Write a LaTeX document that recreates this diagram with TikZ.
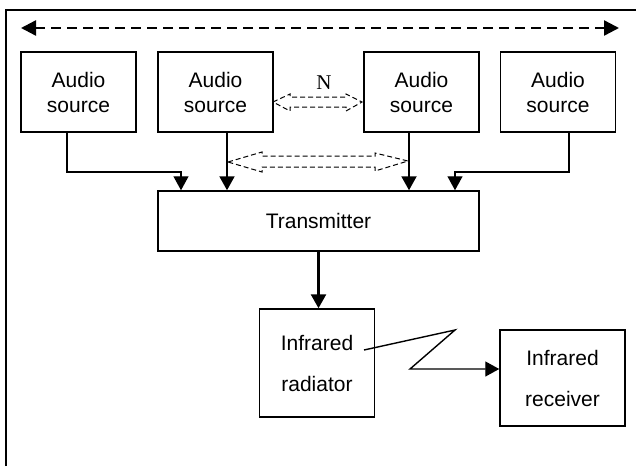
\documentclass[tikz,border=0pt]{standalone}
\usepackage{fontspec}
\setmainfont{Liberation Sans}
\newfontfamily\nserif{Liberation Serif}
\usetikzlibrary{arrows.meta}
\begin{document}
\begin{tikzpicture}[x=.5pt,y=-.5pt,
box/.style={draw,line width=.75pt,inner sep=0pt,align=center,minimum width=57.5pt,minimum height=40pt,font=\fontsize{10.5}{12.5}\selectfont},
tall/.style={box,font=\fontsize{10.5}{20.5}\selectfont},
link/.style={line width=.7pt,-{Triangle[width=7.5pt,length=7pt]}},
hollow/.style={line width=.5pt,dash pattern=on 2.5pt off 1.5pt}]
\useasboundingbox (0,0) rectangle (636,466);
\draw[line width=1pt] (6,466) |- (636,10);
%
\coordinate (lend) at (21,28);
\coordinate (rend) at (619,28);
\draw[line width=1.2pt,dash pattern=on 5pt off 3pt,{Triangle[width=7.5pt,length=7.5pt]}-{Triangle[width=7.5pt,length=7.5pt]}] (lend) -- (rend);
%
\node[box] (src1) at (78.5,92) {Audio\\source};
\node[box] (src2) at (215.5,92) {Audio\\source};
\node[box] (src3) at (421.5,92) {Audio\\source};
\node[box] (src4) at (558,92) {Audio\\source};
\node[box,minimum width=160.5pt,minimum height=30pt] (tx) at (318.5,221) {Transmitter};
\node[tall,minimum height=54pt] (rad) at (317,363) {Infrared\\radiator};
\node[tall,minimum width=62.5pt,minimum height=48pt] (rcv) at (562.5,378) {Infrared\\receiver};
\node[font=\nserif\fontsize{10.5}{12}\selectfont] (nlab) at (324,83) {N};
%
\coordinate (j1) at (181,172);
\coordinate (j4) at (455,172);
\coordinate (o2) at ([xshift=5.75pt]src2.south);
\coordinate (o3) at ([xshift=-6.25pt]src3.south);
\draw[link] ([xshift=-5.75pt]src1.south) |- (j1) -- (j1 |- tx.north);
\draw[link,line width=1pt] (o2) -- (o2 |- tx.north);
\draw[link,line width=1pt] (o3) -- (o3 |- tx.north);
\draw[link] ([xshift=5.5pt]src4.south) |- (j4) -- (j4 |- tx.north);
\draw[link,line width=1.3pt] (tx.south) -- (tx.south |- rad.north);
%
\draw[hollow] (273,102) -- (290,94) -- (290,97) -- (346,97) -- (346,94) -- (362,102)
  -- (346,111) -- (346,107) -- (290,107) -- (290,111) -- cycle;
\draw[hollow] (228,162) -- (262,152) -- (262,156) -- (375,156) -- (375,153) -- (408,161)
  -- (375,171) -- (375,167) -- (262,167) -- (262,172) -- cycle;
%
\coordinate (z1) at (364,350);
\coordinate (z2) at (455,330);
\coordinate (z3) at (410,369);
\draw[link] (z1) -- (z2) -- (z3) -- (z3 -| rcv.west);
\end{tikzpicture}
\end{document}
